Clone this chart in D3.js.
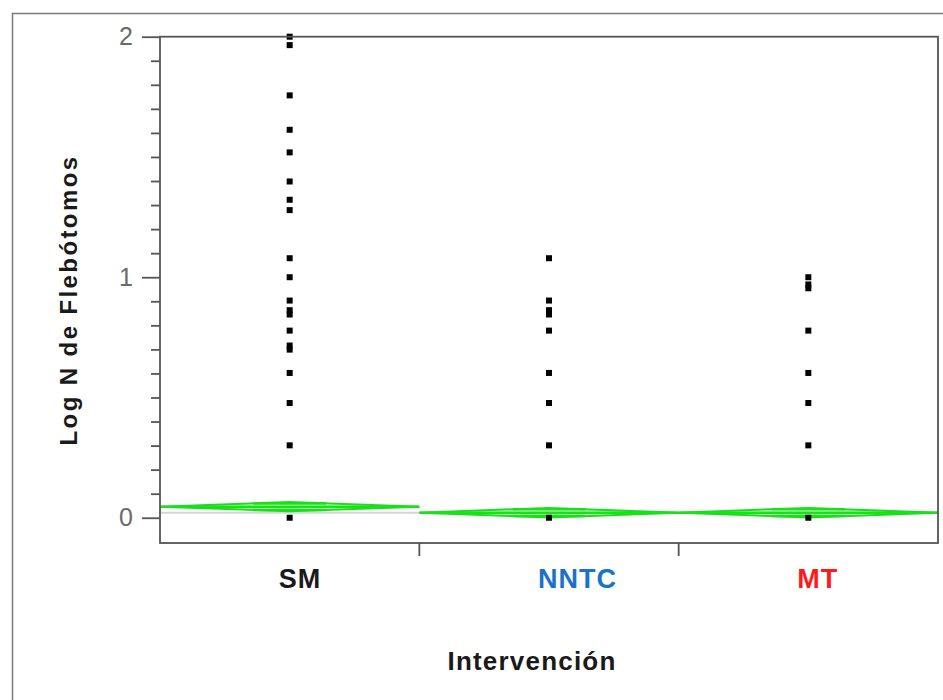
<!DOCTYPE html>
<html>
<head>
<meta charset="utf-8">
<script src="https://cdn.jsdelivr.net/npm/d3@7"></script>
<style>
  body { margin: 0; background: #fff; }
  text { font-family: Arial, "Liberation Sans", sans-serif; }
</style>
</head>
<body>
<div id="chart"></div>
<script>
// categories and their label colours
const categories = ["SM", "NNTC", "MT"];
const labelColors = ["#1a1a1a", "#1a73c8", "#ff1a1a"];

// Log N values per group
const smValues = [0, 0.301, 0.477, 0.602, 0.699, 0.716, 0.778, 0.845, 0.863, 0.903,
  1.0, 1.079, 1.279, 1.322, 1.398, 1.519, 1.613, 1.756, 1.965, 2.0];
const nntcValues = [0, 0.301, 0.477, 0.602, 0.778, 0.845, 0.863, 0.903, 1.079];
const mtValues = [0, 0.301, 0.477, 0.602, 0.778, 0.954, 0.97, 1.0];

// means diamonds
const groupMeans = [0.046, 0.021, 0.021];
const groupCI = [0.019, 0.02, 0.02];
const grandMean = 0.021;

const yMajorTicks = [0, 1, 2];

const width = 943, height = 700;
const plot = { left: 160, right: 938, top: 36.7, bottom: 543 };

const svg = d3.select("#chart")
  .append("svg")
  .attr("width", width)
  .attr("height", height);

// outer frame (left and top only)
svg.append("path")
  .attr("d", `M12.5,${height} V13.5 H${width}`)
  .attr("fill", "none")
  .attr("stroke", "#7a7a7a")
  .attr("stroke-width", 1.5);

const x = d3.scaleBand()
  .domain(categories)
  .range([plot.left, plot.right]);

const y = d3.scaleLinear()
  .domain([-0.105, 2])
  .range([plot.bottom, plot.top]);

const series = [smValues, nntcValues, mtValues];

// grand mean line
svg.append("line")
  .attr("x1", plot.left).attr("x2", plot.right)
  .attr("y1", y(grandMean)).attr("y2", y(grandMean))
  .attr("stroke", "#d4d4d4")
  .attr("stroke-width", 2);

// means diamonds
const diamonds = svg.append("g").attr("id", "diamonds");
categories.forEach((c, i) => {
  const x0 = x(c), x1 = x(c) + x.bandwidth(), xc = x(c) + x.bandwidth() / 2;
  const m = groupMeans[i], ci = groupCI[i];
  const g = diamonds.append("g");
  g.append("path")
    .attr("d", `M${x0},${y(m)} L${xc},${y(m + ci)} L${x1},${y(m)} L${xc},${y(m - ci)} Z`)
    .attr("fill", "#9ff59f")
    .attr("fill-opacity", 0.5)
    .attr("stroke", "#19e019")
    .attr("stroke-width", 2);
  g.append("line")
    .attr("x1", x0).attr("x2", x1)
    .attr("y1", y(m)).attr("y2", y(m))
    .attr("stroke", "#19e019")
    .attr("stroke-width", 2.5);
  // overlap marks
  const ov = ci / Math.SQRT2;
  [m + ov, m - ov].forEach(v => {
    g.append("line")
      .attr("x1", xc - x.bandwidth() * 0.14).attr("x2", xc + x.bandwidth() * 0.14)
      .attr("y1", y(v)).attr("y2", y(v))
      .attr("stroke", "#19e019")
      .attr("stroke-width", 2.5);
  });
});

// points
const pts = svg.append("g").attr("id", "punti");
series.forEach((vals, i) => {
  pts.selectAll(null)
    .data(vals)
    .enter()
    .append("rect")
    .attr("x", x(categories[i]) + x.bandwidth() / 2 - 3)
    .attr("y", d => y(d) - 3)
    .attr("width", 6)
    .attr("height", 6)
    .attr("fill", "#000");
});

// plot border
svg.append("rect")
  .attr("x", plot.left)
  .attr("y", plot.top)
  .attr("width", plot.right - plot.left)
  .attr("height", plot.bottom - plot.top)
  .attr("fill", "none")
  .attr("stroke", "#555")
  .attr("stroke-width", 1.8);

// y axis: minor then major ticks
const minorAxis = d3.axisLeft(y)
  .tickValues(y.ticks(20).filter(t => t >= 0 && !yMajorTicks.includes(t)))
  .tickSize(9)
  .tickFormat("");
svg.append("g")
  .attr("class", "y axis minor")
  .attr("transform", `translate(${plot.left},0)`)
  .call(minorAxis)
  .call(g => g.select(".domain").remove());

const majorAxis = d3.axisLeft(y)
  .tickValues(yMajorTicks)
  .tickSize(18)
  .tickPadding(9)
  .tickFormat(d3.format("d"));
svg.append("g")
  .attr("class", "y axis major")
  .attr("transform", `translate(${plot.left},0)`)
  .call(majorAxis)
  .call(g => g.select(".domain").remove())
  .call(g => g.selectAll("text")
    .attr("font-size", 25)
    .attr("fill", "#6a6a6a")
    .attr("font-family", "Arial, 'Liberation Sans', sans-serif"));

svg.selectAll(".y.axis line").attr("stroke", "#555").attr("stroke-width", 1.8);

// x axis: ticks at band boundaries
svg.append("g")
  .attr("class", "x axis")
  .selectAll("line")
  .data(categories.slice(0, -1))
  .enter()
  .append("line")
  .attr("x1", d => x(d) + x.bandwidth())
  .attr("x2", d => x(d) + x.bandwidth())
  .attr("y1", plot.bottom)
  .attr("y2", plot.bottom + 13)
  .attr("stroke", "#555")
  .attr("stroke-width", 1.8);

svg.append("g")
  .attr("class", "x labels")
  .selectAll("text")
  .data(categories)
  .enter()
  .append("text")
  .attr("x", d => x(d) + x.bandwidth() / 2 - 11)
  .attr("y", 588)
  .attr("font-size", 27)
  .attr("font-weight", "bold")
  .attr("letter-spacing", 1)
  .attr("fill", (d, i) => labelColors[i])
  .text(d => d);

// axis titles
svg.append("text")
  .attr("x", 532)
  .attr("y", 670)
  .attr("text-anchor", "middle")
  .attr("font-size", 26)
  .attr("font-weight", "bold")
  .attr("letter-spacing", 1.2)
  .attr("fill", "#1a1a1a")
  .text("Intervención");

svg.append("text")
  .attr("transform", "translate(77,300) rotate(-90)")
  .attr("text-anchor", "middle")
  .attr("font-size", 24)
  .attr("font-weight", "bold")
  .attr("letter-spacing", 2.4)
  .attr("fill", "#1a1a1a")
  .text("Log N de Flebótomos");
</script>
</body>
</html>
